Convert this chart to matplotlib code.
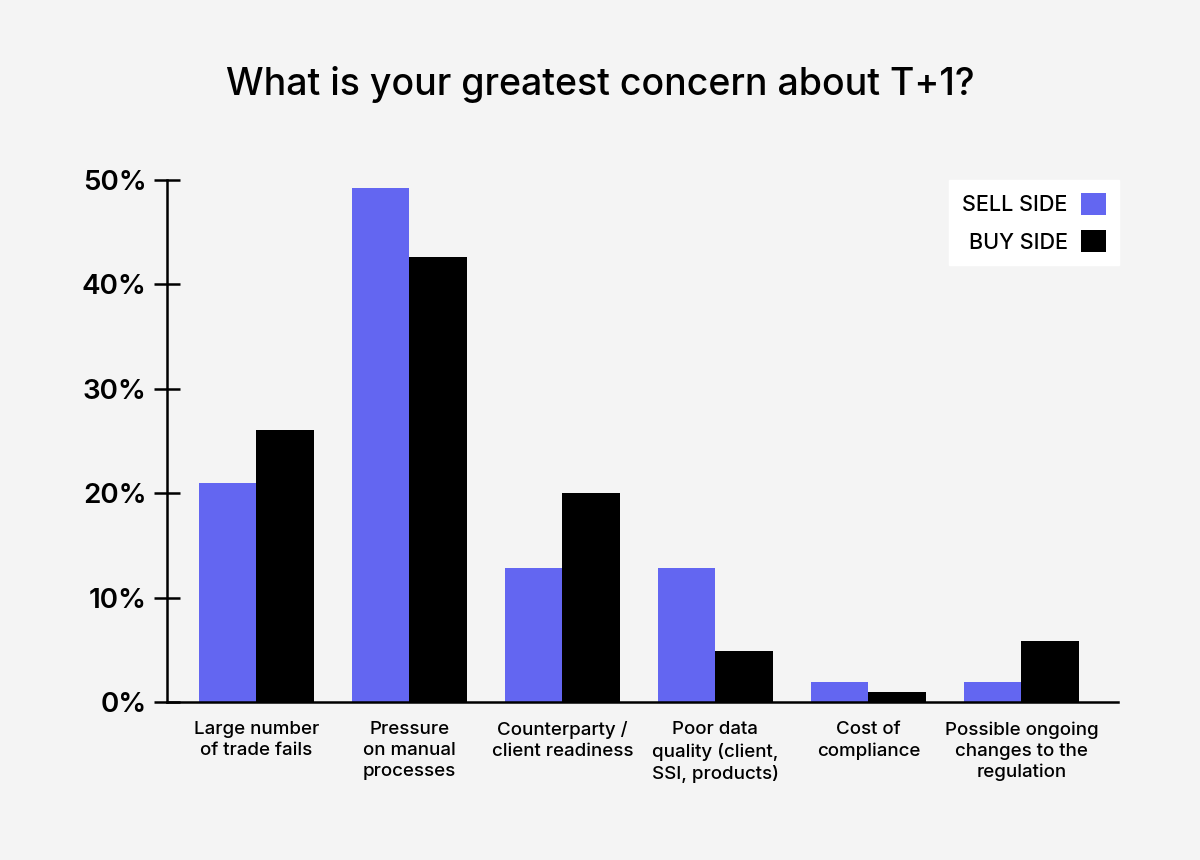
import matplotlib
matplotlib.use("Agg")
import matplotlib.pyplot as plt
import numpy as np

plt.rcParams['font.family'] = ['Inter', 'DejaVu Sans']
plt.rcParams['font.weight'] = 'medium'

categories = [
    "Large number\nof trade fails",
    "Pressure\non manual\nprocesses",
    "Counterparty /\nclient readiness",
    "Poor data\nquality (client,\nSSI, products)",
    "Cost of\ncompliance",
    "Possible ongoing\nchanges to the\nregulation",
]
sell_side = [21, 49.2, 12.8, 12.8, 1.9, 1.9]
buy_side = [26.1, 42.6, 20, 4.9, 1, 5.8]
y_ticks = [0, 10, 20, 30, 40, 50]
y_tick_labels = ["0%", "10%", "20%", "30%", "40%", "50%"]

bg = '#f4f4f4'
sell_color = '#6366f1'
buy_color = '#000000'

fig = plt.figure(figsize=(12, 8.6), dpi=100, facecolor=bg)
ax = fig.add_axes([0.139, 0.1837, 0.793, 0.607])
ax.set_facecolor(bg)

x = np.arange(len(categories))
w = 0.375
ax.bar(x - w / 2, sell_side, w, color=sell_color, label="SELL SIDE")
ax.bar(x + w / 2, buy_side, w, color=buy_color, label="BUY SIDE")

ax.set_xlim(-0.585, len(categories) - 1 + 0.634)
ax.set_ylim(0, 50)
ax.set_yticks(y_ticks)
ax.set_yticklabels(y_tick_labels, fontsize=20, fontweight='semibold')
ax.tick_params(axis='y', direction='inout', length=19, width=1.8, pad=5)
ax.set_xticks(x)
ax.set_xticklabels(categories, fontsize=13.5, linespacing=1.3)
ax.tick_params(axis='x', length=0, pad=14)

for s in ['top', 'right']:
    ax.spines[s].set_visible(False)
ax.spines['left'].set_linewidth(1.8)
ax.spines['bottom'].set_linewidth(1.8)

leg = ax.legend(loc='upper right', bbox_to_anchor=(1.001, 1.0), borderaxespad=0,
                markerfirst=False, frameon=True, fancybox=False, edgecolor='white',
                facecolor='white', framealpha=1, fontsize=15.5, handlelength=1.2,
                handleheight=1.2, handletextpad=0.6, borderpad=0.6, labelspacing=0.7)
for t in leg.get_texts():
    t.set_ha('right')

fig.text(0.5, 0.902, "What is your greatest concern about T+1?", ha='center',
         va='center', fontsize=27)

fig.savefig("out.png", dpi=100, facecolor=bg)
